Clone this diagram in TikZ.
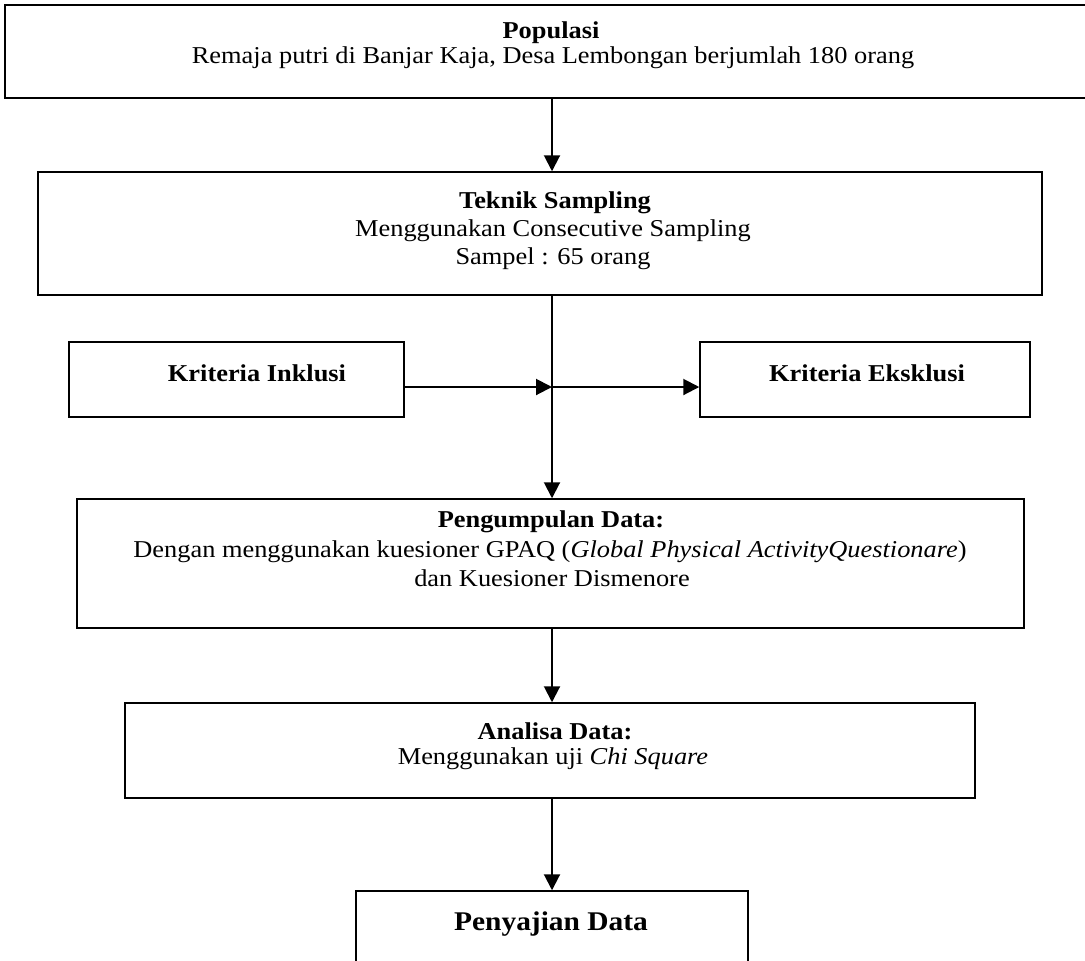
\documentclass[tikz,border=0pt]{standalone}
\usepackage{fontspec}
\setmainfont{Liberation Serif}[FakeStretch=1.09]
\usetikzlibrary{arrows.meta,fit}
\begin{document}
\begin{tikzpicture}[x=0.5pt,y=-0.5pt,
  box/.style={draw, line width=0.75pt, inner sep=0pt},
  txt/.style={inner sep=0pt, anchor=base, font=\fontsize{12.1}{13}\selectfont},
  big/.style={inner sep=0pt, anchor=base, font=\fontsize{13.5}{15}\selectfont\bfseries},
  conn/.style={line width=1pt, -{Triangle[length=8pt,width=8pt]}}]
\useasboundingbox (0,0) rectangle (1085,960);
\clip (0,0) rectangle (1085,960);
% boxes
\node[box, fit={(5,5) (1095,98)}] (pop) {};
\node[box, fit={(38,172) (1042,295)}] (tek) {};
\node[box, fit={(69,342) (404,417)}] (ink) {};
\node[box, fit={(700,342) (1030,417)}] (eks) {};
\node[box, fit={(77,499) (1024,628)}] (pen) {};
\node[box, fit={(125,703) (975,798)}] (ana) {};
\node[box, fit={(356,891) (748,975)}] (saj) {};
% texts (baselines)
\node[txt] (popt) at (551,38) {\textbf{Populasi}};
\node[txt] (popl) at (553,63) {Remaja putri di Banjar Kaja, Desa Lembongan berjumlah 180 orang};
\node[txt] (tekt) at (555,208) {\textbf{Teknik Sampling}};
\node[txt] (tekl1) at (553,236) {Menggunakan Consecutive Sampling};
\node[txt] (tekl2) at (553,264) {Sampel : 65 orang};
\node[txt] (inkt) at (257,381) {\textbf{Kriteria Inklusi}};
\node[txt] (ekst) at (867,381) {\textbf{Kriteria Eksklusi}};
\node[txt] (pent) at (551,527) {\textbf{Pengumpulan Data:}};
\node[txt] (penl1) at (550,557) {Dengan menggunakan kuesioner GPAQ (\textit{Global Physical ActivityQuestionare})};
\node[txt] (penl2) at (552,586) {dan Kuesioner Dismenore};
\node[txt] (anat) at (555,739) {\textbf{Analisa Data:}};
\node[txt] (anal) at (553,764) {Menggunakan uji \textit{Chi Square}};
\node[big] (sajt) at (551,930) {Penyajian Data};
% connectors
\coordinate (jx) at (552,0);
\coordinate (j) at (552,387);
\draw[conn] (pop.south -| jx) -- (tek.north -| jx);
\draw[conn] (tek.south -| jx) -- (pen.north -| jx);
\draw[conn] (ink.east |- j) -- (j);
\draw[conn] (j) -- (eks.west |- j);
\draw[conn] (pen.south -| jx) -- (ana.north -| jx);
\draw[conn] (ana.south -| jx) -- (saj.north -| jx);
\end{tikzpicture}
\end{document}
